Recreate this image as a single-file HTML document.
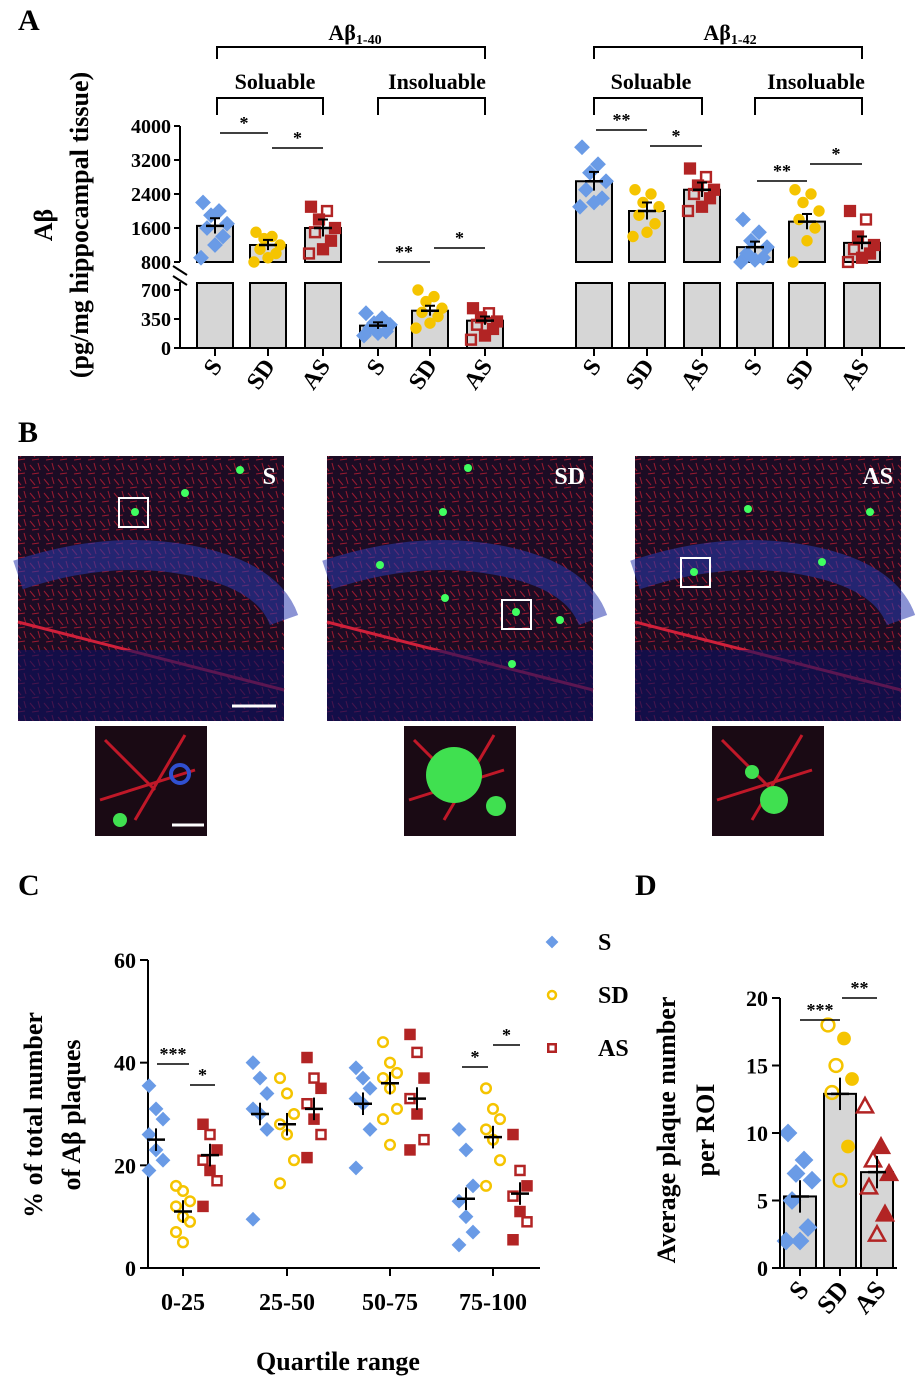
<!DOCTYPE html>
<html><head><meta charset="utf-8"><style>
body{margin:0;background:#fff}
svg{display:block;font-family:"Liberation Serif",serif;font-weight:bold}
</style></head><body>
<svg id="fig" width="919" height="1386" viewBox="0 0 919 1386" xmlns="http://www.w3.org/2000/svg">
<g id="A"></g>
<g id="B"></g>
<g id="C"></g>
<g id="D"></g>
</svg>
<script>
// ---------- DATA ----------
const aGroups = ["S","SD","AS","S","SD","AS","S","SD","AS","S","SD","AS"];
const aMeans = [1650,1200,1600,270,450,330,2700,2000,2500,1150,1750,1250];
const aSem = [180,120,200,40,60,50,220,200,170,130,180,150];
const aPoints = [
 [2200,2000,1900,1700,1600,1400,1200,900],
 [1500,1400,1350,1200,1100,1000,900,800],
 [2100,2000,1800,1600,1500,1300,1100,1000],
 [420,360,300,280,240,200,180,150],
 [700,620,560,480,430,380,300,240],
 [480,420,370,320,280,230,150,100],
 [3500,3100,2900,2700,2500,2300,2200,2100],
 [2500,2400,2200,2100,1900,1700,1500,1400],
 [3000,2800,2600,2500,2400,2300,2100,2000],
 [1800,1500,1300,1150,1000,900,850,800],
 [2500,2400,2200,2000,1800,1600,1300,800],
 [2000,1800,1400,1200,1100,1000,900,800]
];
const aUpperTicks = [800,1600,2400,3200,4000];
const aLowerTicks = [0,350,700];

const cCategories = ["0-25","25-50","50-75","75-100"];
const cS = [[35.5,31,29,26,23,21,19],[40,37,34,31,30,27,9.5],[39,37,35,33,32,27,19.5],[27,23,16,13,10,7,4.5]];
const cSD = [[16,15,13,12,10,9,7,5],[37,34,30,28,26,21,16.5],[44,40,38,37,35,31,29,24],[35,31,29,27,25,21,16]];
const cAS = [[28,26,23,21,19,17,12],[41,37,35,32,29,26,21.5],[45.5,42,37,33,30,25,23],[26,19,16,14,11,9,5.5]];
const cMeanS=[25,30,32,13.5], cMeanSD=[11,28,36,25.5], cMeanAS=[22,31,33,14.5];
const cTicks=[0,20,40,60];

const dGroups=["S","SD","AS"];
const dMeans=[5.3,12.9,7.1];
const dS=[10,8,7,6.5,5,3,2,2];
const dSD=[18,17,15,14,13,9,6.5];
const dAS=[12,9,8,7,6,4,2.5];
const dTicks=[0,5,10,15,20];

// ---------- helpers ----------
const NS="http://www.w3.org/2000/svg";
const JIT=[-12,4,-4,12,-8,8,0,-14];
function mk(parent,tag,attrs,txt){const e=document.createElementNS(NS,tag);for(const k in attrs)e.setAttribute(k,attrs[k]);if(txt!==undefined)e.textContent=txt;parent.appendChild(e);return e;}
const BLUE="#6a9be6",YEL="#f5c400",RED="#b22424";
function marker(p,shape,x,y,r,col,open){
  let e;
  if(shape==="d") e=mk(p,"polygon",{points:`${x},${y-r} ${x+r},${y} ${x},${y+r} ${x-r},${y}`,fill:open?"none":col,stroke:col,"stroke-width":2});
  else if(shape==="c") e=mk(p,"circle",{cx:x,cy:y,r:r*0.8,fill:open?"none":col,stroke:col,"stroke-width":open?2.5:1});
  else if(shape==="s") e=mk(p,"rect",{x:x-r*0.75,y:y-r*0.75,width:r*1.5,height:r*1.5,fill:open?"none":col,stroke:col,"stroke-width":2.5});
  else e=mk(p,"polygon",{points:`${x},${y-r} ${x+r},${y+r*0.8} ${x-r},${y+r*0.8}`,fill:open?"none":col,stroke:col,"stroke-width":2.5});
  
  
  return e;
}
function txt(p,x,y,s,size,anchor,name,extra){const e=mk(p,"text",Object.assign({x:x,y:y,"font-size":size,"text-anchor":anchor||"middle"},extra||{}),s);return e;}
function line(p,x1,y1,x2,y2,w,name){const e=mk(p,"line",{x1,y1,x2,y2,stroke:"#000","stroke-width":w||2});return e;}
function bracket(p,x1,x2,y,h,name){const e=mk(p,"path",{d:`M${x1},${y+h}V${y}H${x2}V${y+h}`,fill:"none",stroke:"#000","stroke-width":2});}
function sig(p,x1,x2,y,s){line(p,x1,y,x2,y,1.5,'significance-line');txt(p,(x1+x2)/2,y-4,s,18,"middle",'significance-label');}

// ---------- Panel A ----------
const A=document.getElementById("A");
txt(A,18,30,"A",30,"start",'panel-label-a');
const axX=180;
const yU=v=>262-(v-800)*(136/3200);
const yL=v=>348-v*(58/700);
const aX=[215,268,323,378,430,485,594,647,702,755,807,862];
const shapes={S:"d",SD:"c",AS:"s"}, cols={S:BLUE,SD:YEL,AS:RED};
aMeans.forEach((m,i)=>{
  const x=aX[i],w=36;
  let b;
  if(m<=700){b=mk(A,"rect",{x:x-w/2,y:yL(m),width:w,height:348-yL(m),fill:"#d6d6d6",stroke:"#000","stroke-width":2});}
  else{
    b=mk(A,"rect",{x:x-w/2,y:283,width:w,height:65,fill:"#d6d6d6",stroke:"#000","stroke-width":2});
    const b2=mk(A,"rect",{x:x-w/2,y:yU(m),width:w,height:262-yU(m),fill:"#d6d6d6",stroke:"#000","stroke-width":2});
    
  }
  
  const yf=v=>v>700?yU(Math.max(v,800)):yL(v);
  aPoints[i].forEach((v,j)=>{marker(A,shapes[aGroups[i]],x+JIT[j],yf(v),6.5,cols[aGroups[i]],aGroups[i]==="AS"&&j%3===1);});
  const ys=yf(m);
  line(A,x-9,ys,x+9,ys,2.5,'mean-line');line(A,x,yf(m-aSem[i]),x,yf(m+aSem[i]),2,'error-bar');
  line(A,x-5,yf(m+aSem[i]),x+5,yf(m+aSem[i]),2,'error-cap');
  txt(A,0,0,aGroups[i],24,"end",'x-tick-label',{transform:`translate(${x+8},${366}) rotate(-55)`});
});
line(A,axX,126,axX,262,2,'y-axis-upper');line(A,axX,282,axX,348,2,'y-axis-lower');
line(A,axX,348,905,348,2,'x-axis');
line(A,173,266,187,275,2,'axis-break');line(A,173,276,187,285,2,'axis-break');
aUpperTicks.forEach(v=>{line(A,axX-6,yU(v),axX,yU(v),2,'y-tick');txt(A,axX-9,yU(v)+7,v,20,"end",'y-tick-label');});
aLowerTicks.forEach(v=>{line(A,axX-6,yL(v),axX,yL(v),2,'y-tick');txt(A,axX-9,yL(v)+7,v,20,"end",'y-tick-label');});
aX.forEach(x=>line(A,x,348,x,356,2,'x-tick'));
txt(A,0,0,"Aβ",26,"middle",'y-axis-title',{transform:"translate(52,225) rotate(-90)"});
txt(A,0,0,"(pg/mg hippocampal tissue)",26,"middle",'y-axis-unit',{transform:"translate(88,225) rotate(-90)"});
bracket(A,217,485,47,12,'bracket-ab40');bracket(A,594,862,47,12,'bracket-ab42');
const t1=txt(A,355,40,"Aβ",22,"middle",'group-label-ab40');mk(t1,"tspan",{"font-size":14,dy:4},"1-40");
const t2=txt(A,730,40,"Aβ",22,"middle",'group-label-ab42');mk(t2,"tspan",{"font-size":14,dy:4},"1-42");
[[217,323,"Soluable",275],[378,485,"Insoluable",437],[594,702,"Soluable",651],[755,862,"Insoluable",816]].forEach(g=>{txt(A,g[3],89,g[2],22,"middle",'subgroup-label');bracket(A,g[0],g[1],98,17,'subgroup-bracket');});
sig(A,220,268,133,"*");sig(A,272,323,148,"*");sig(A,378,430,262,"**");sig(A,434,485,248,"*");
sig(A,596,647,130,"**");sig(A,650,702,146,"*");sig(A,757,807,181,"**");sig(A,810,862,164,"*");

// ---------- Panel B ----------
const B=document.getElementById("B");
txt(B,18,442,"B",30,"start",'panel-label-b');
const defs=mk(B,"defs",{});
const pat=mk(defs,"pattern",{id:"tex",width:14,height:14,patternUnits:"userSpaceOnUse"});
mk(pat,"rect",{width:14,height:14,fill:"#1c0c24"});
mk(pat,"path",{d:"M2,3L7,9M10,1L12,8M4,12L11,11",stroke:"#9a1a30","stroke-width":1});
const imgs=[{x:18,lab:"S",box:[119,498],sp:[[135,512],[185,493],[240,470]]},{x:327,lab:"SD",box:[502,600],sp:[[516,612],[443,512],[468,468],[380,565],[512,664],[445,598],[560,620]]},{x:635,lab:"AS",box:[681,558],sp:[[694,572],[748,509],[822,562],[870,512]]}];
imgs.forEach(im=>{
  const g=mk(B,"g",{});
  mk(g,"rect",{x:im.x,y:456,width:266,height:265,fill:"url(#tex)"});
  mk(g,"path",{d:`M${im.x},${575} Q${im.x+90},${545} ${im.x+170},${560} T${im.x+266},${620}`,stroke:"#2b3bb0","stroke-width":30,fill:"none",opacity:0.55});
  mk(g,"path",{d:`M${im.x},${622} Q${im.x+130},${655} ${im.x+266},${690}`,stroke:"#d0203a","stroke-width":3,fill:"none"});
  mk(g,"rect",{x:im.x,y:650,width:266,height:71,fill:"#0e1060",opacity:0.6});
  im.sp.forEach(s=>mk(g,"circle",{cx:s[0],cy:s[1],r:4,fill:"#40ff60"}));
  mk(g,"rect",{x:im.box[0],y:im.box[1],width:29,height:29,fill:"none",stroke:"#fff","stroke-width":2});
  txt(g,im.x+258,484,im.lab,24,"end",'micrograph-label',{fill:"#fff"});
  const ix=im.x+77;
  const ins=mk(B,"g",{});
  mk(ins,"rect",{x:ix,y:726,width:112,height:110,fill:"#1a0a14"});
  mk(ins,"path",{d:`M${ix+10},${740}L${ix+60},${790}M${ix+90},${735}L${ix+40},${820}M${ix+5},${800}L${ix+100},${770}`,stroke:"#c01828","stroke-width":3});
  if(im.lab==="SD"){mk(ins,"circle",{cx:ix+50,cy:775,r:28,fill:"#40e050"});mk(ins,"circle",{cx:ix+92,cy:806,r:10,fill:"#40e050"});}
  else if(im.lab==="S"){mk(ins,"circle",{cx:ix+25,cy:820,r:7,fill:"#40e050"});mk(ins,"circle",{cx:ix+85,cy:774,r:9,fill:"none",stroke:"#3050d0","stroke-width":4});}
  else{mk(ins,"circle",{cx:ix+62,cy:800,r:14,fill:"#40e050"});mk(ins,"circle",{cx:ix+40,cy:772,r:7,fill:"#40e050"});}
});
line(B,232,706,276,706,3,'scale-bar');B.lastChild.setAttribute("stroke","#fff");
line(B,172,825,204,825,3,'scale-bar-inset');B.lastChild.setAttribute("stroke","#fff");

// ---------- Panel C ----------
const C=document.getElementById("C");
txt(C,18,895,"C",30,"start",'panel-label-c');
const cY=v=>1268-v*(308/60);
const cXc=[183,287,390,493];
line(C,148,960,148,1268,2,'y-axis');line(C,148,1268,540,1268,2,'x-axis');
cTicks.forEach(v=>{line(C,140,cY(v),148,cY(v),2,'y-tick');txt(C,136,cY(v)+8,v,22,"end",'y-tick-label');});
cCategories.forEach((c,i)=>{line(C,cXc[i],1268,cXc[i],1276,2,'x-tick');txt(C,cXc[i],1310,c,24,"middle",'x-tick-label');});
const cSer=[[cS,cMeanS,"d",BLUE,false,-27],[cSD,cMeanSD,"c",YEL,true,0],[cAS,cMeanAS,"s",RED,null,27]];
cSer.forEach(sr=>{
  sr[0].forEach((pts,i)=>{pts.forEach((v,j)=>{const dx=((j%3)-1)*7;marker(C,sr[2],cXc[i]+sr[5]+dx,cY(v),6,sr[3],sr[4]===null?(j%2===1):sr[4]);});
    const m=sr[1][i],x=cXc[i]+sr[5];line(C,x-9,cY(m),x+9,cY(m),2.5,'mean-line');line(C,x,cY(m-2.2),x,cY(m+2.2),2,'error-bar');});
});
sig(C,157,189,1064,"***");sig(C,190,215,1085,"*");sig(C,462,488,1067,"*");sig(C,493,520,1045,"*");
txt(C,0,0,"% of total number",26,"middle",'y-axis-title',{transform:"translate(42,1115) rotate(-90)"});
txt(C,0,0,"of Aβ plaques",26,"middle",'y-axis-title-2',{transform:"translate(80,1115) rotate(-90)"});
txt(C,338,1370,"Quartile range",26,"middle",'x-axis-title');
[["S","d",false,942],["SD","c",true,995],["AS","s",true,1048]].forEach((l,i)=>{const col=[BLUE,YEL,RED][i];marker(C,l[1],552,l[3],5,col,l[2]);txt(C,598,l[3]+8,l[0],24,"start",'legend-entry');});

// ---------- Panel D ----------
const D=document.getElementById("D");
txt(D,635,895,"D",30,"start",'panel-label-d');
const dY=v=>1268-v*(270/20);
const dX=[800,840,877];
dMeans.forEach((m,i)=>{const b=mk(D,"rect",{x:dX[i]-16,y:dY(m),width:32,height:1268-dY(m),fill:"#d6d6d6",stroke:"#000","stroke-width":2});});
[[dS,"d",BLUE],[dSD,"c",YEL],[dAS,"t",RED]].forEach((s,i)=>{s[0].forEach((v,j)=>{marker(D,s[1],dX[i]+JIT[j],dY(v),8,s[2],i===0?false:j%2===0);});
  const m=dMeans[i];line(D,dX[i]-9,dY(m),dX[i]+9,dY(m),2.5,'mean-line');line(D,dX[i],dY(m-1.2),dX[i],dY(m+1.2),2,'error-bar');});
line(D,780,998,780,1268,2,'y-axis');line(D,780,1268,897,1268,2,'x-axis');
dTicks.forEach(v=>{line(D,772,dY(v),780,dY(v),2,'y-tick');txt(D,768,dY(v)+8,v,22,"end",'y-tick-label');});
dGroups.forEach((g,i)=>{line(D,dX[i],1268,dX[i],1276,2,'x-tick');txt(D,0,0,g,26,"end",'x-tick-label',{transform:`translate(${dX[i]+10},${1290}) rotate(-50)`});});
sig(D,800,840,1020,"***");sig(D,842,877,998,"**");
txt(D,0,0,"Average plaque number",26,"middle",'y-axis-title',{transform:"translate(675,1130) rotate(-90)"});
txt(D,0,0,"per ROI",26,"middle",'y-axis-title-2',{transform:"translate(714,1130) rotate(-90)"});
</script>
</body></html>
